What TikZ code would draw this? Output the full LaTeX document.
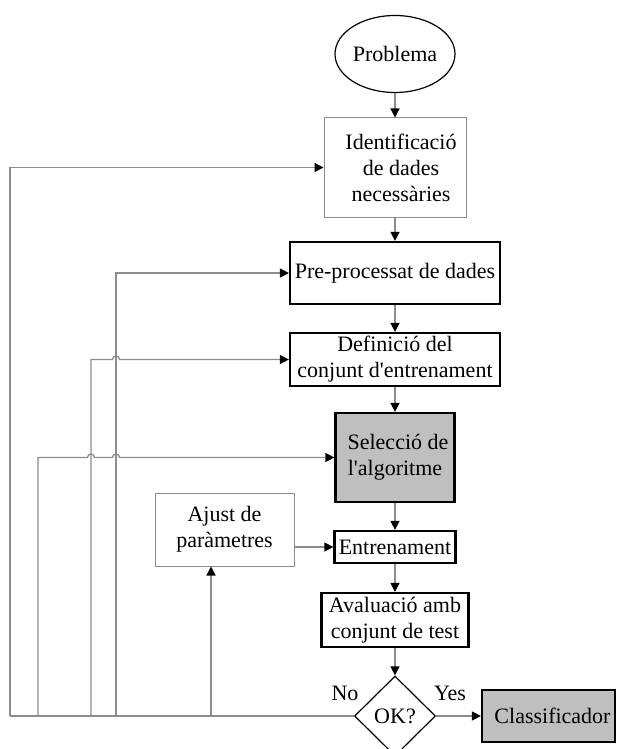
\documentclass[tikz,border=0pt]{standalone}
\usepackage{fontspec}
\setmainfont{Liberation Serif}
\usetikzlibrary{arrows.meta,shapes.geometric}

\begin{document}
\begin{tikzpicture}[x=1pt, y=-1pt,
    font=\fontsize{22}{26}\selectfont,
    every node/.style={inner sep=0pt, align=center},
    thinbox/.style={draw=black!45, line width=1pt},
    thickbox/.style={draw=black, line width=2.2pt},
    greybox/.style={thickbox, fill=black!25},
    flow/.style={draw=black!45, line width=1.3pt, -{Triangle[length=9pt, width=9pt, black]}},
    bus/.style={draw=black!45, line width=1.3pt}]
    \useasboundingbox (0,0) rectangle (617,749);
    \clip (0,0) rectangle (617,749);
    \path (395,54) node[ellipse, draw, line width=1.2pt, minimum width=120pt, minimum height=77pt] (prob) {Problema}
        (395,167.5) node[thinbox, minimum width=142pt, minimum height=99pt] (ident) {\hspace{12pt}Identificació\\\hspace{12pt}de dades\\\hspace{12pt}necessàries}
        (395,273) node[thickbox, minimum width=210pt, minimum height=62pt] (pre) {Pre-processat de dades}
        (395,359.5) node[thickbox, minimum width=210pt, minimum height=53pt] (defi) {Definició del\\conjunt d\textquotesingle entrenament}
        (395,457.5) node[greybox, minimum width=119pt, minimum height=89pt] (sele) {\hspace{6pt}Selecció de\\l\textquotesingle algoritme}
        (224.5,529.5) node[thinbox, minimum width=139pt, minimum height=73pt] (ajust) {Ajust de\\paràmetres}
        (395,547) node[thickbox, minimum width=121pt, minimum height=32pt] (entr) {Entrenament}
        (395,620) node[thickbox, minimum width=147pt, minimum height=54pt] (aval) {Avaluació amb\\conjunt de test}
        (395,716) node[diamond, draw, line width=1.2pt, minimum width=81pt, minimum height=80pt] (ok) {OK?}
        (548.5,716) node[greybox, minimum width=133pt, minimum height=52pt] (clas) {\hspace{8pt}Classificador}
        (345,693) node (no) {No}
        (450,693) node (yes) {Yes};
    % main flow
    \draw[flow] (prob) -- (ident);
    \draw[flow] (ident) -- (pre);
    \draw[flow] (pre) -- (defi);
    \draw[flow] (defi) -- (sele);
    \draw[flow] (sele) -- (entr);
    \draw[flow] (entr) -- (aval);
    \draw[flow] (aval) -- (ok);
    \draw[flow] (ok) -- (clas);
    \draw[flow] (ajust.east |- entr.west) -- (entr.west);
    % feedback from the test
    \coordinate (c1) at (10,716);
    \coordinate (c2) at (38,716);
    \coordinate (c3) at (91,716);
    \coordinate (c4) at (116,716);
    \coordinate (c5) at (211,716);
    \draw[bus] (ok.west) -- (c1);
    \draw[flow] (c1) |- (ident.west);
    \draw[flow] (c4) |- (pre.west);
    \draw[flow] (c3) -- (c3 |- defi.west) -- ++(21.5,0) arc(180:360:3.5) -- (defi.west);
    \draw[flow] (c2) -- (c2 |- sele.west) -- ++(49.5,0) arc(180:360:3.5) -- ++(18,0) arc(180:360:3.5) -- (sele.west);
    \draw[flow] (c5) -- (ajust.south -| c5);
\end{tikzpicture}
\end{document}
